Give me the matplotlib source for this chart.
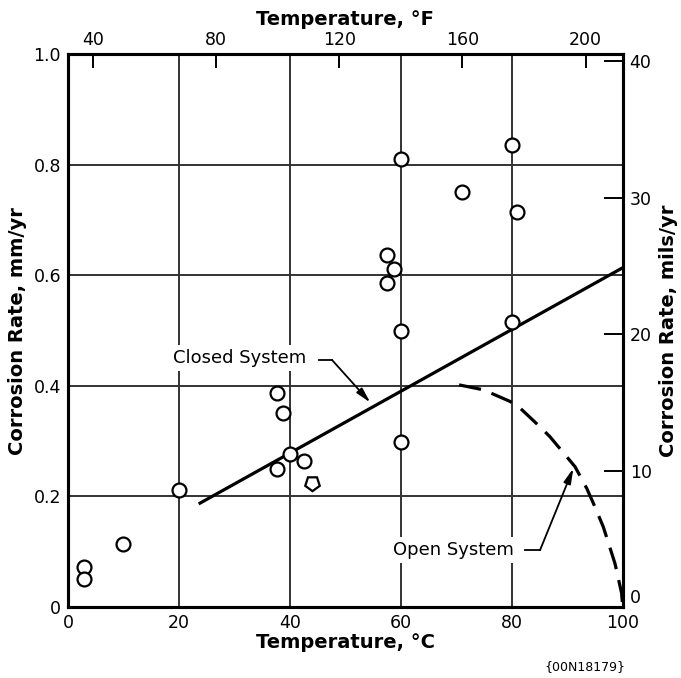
import numpy as np
import matplotlib
matplotlib.use("Agg")
import matplotlib.pyplot as plt

# measured points, temperature (C) vs corrosion rate (mm/yr)
temp_c = [2.8, 2.8, 10, 20, 37.6, 38.8, 37.6, 40.0, 42.6,
          60, 60, 57.5, 58.8, 57.5, 60, 71.1, 80, 81.0, 80]
rate = [0.072, 0.051, 0.114, 0.212, 0.388, 0.351, 0.249, 0.277, 0.265,
        0.299, 0.50, 0.587, 0.612, 0.637, 0.810, 0.751, 0.836, 0.715, 0.516]
# one odd point drawn as a pentagon
odd_temp = [44.0]
odd_rate = [0.225]

# closed system trend line
closed_t = [23.8, 100]
closed_r = [0.188, 0.614]

# open system curve
open_t = [70.5, 74.9, 79.7, 81.5, 85.1, 86.9, 89.9, 91.4, 93.5, 94.7, 96.5, 98.6, 99.8, 100]
open_r = [0.402, 0.393, 0.372, 0.360, 0.326, 0.308, 0.272, 0.254, 0.215, 0.188, 0.145, 0.079, 0.025, 0.0]

x_ticks = [0, 20, 40, 60, 80, 100]
y_ticks = [0, 0.2, 0.4, 0.6, 0.8, 1.0]
f_ticks = [40, 80, 120, 160, 200]
mils_ticks = [0, 10, 20, 30, 40]

plt.rcParams['font.family'] = 'DejaVu Sans'

fig = plt.figure(figsize=(6.81, 6.78), dpi=100)
ax = fig.add_axes([0.0999, 0.1047, 0.8145, 0.815])

GRID = '#333333'
LBL = 14  # bold axis titles
ax.set_xlim(0, 100)
ax.set_ylim(0, 1.0)
ax.set_xticks(x_ticks)
ax.set_yticks(y_ticks)
ax.set_xticklabels([str(t) for t in x_ticks])
ax.set_yticklabels(['0', '0.2', '0.4', '0.6', '0.8', '1.0'])
ax.tick_params(axis='both', length=0, labelsize=12.5, pad=5)
ax.grid(True, color=GRID, linewidth=1.4)
ax.set_axisbelow(True)
for s in ax.spines.values():
    s.set_linewidth(2.2)

ax.set_xlabel('Temperature, \u00b0C', fontsize=LBL, fontweight='bold', labelpad=1)
ax.set_ylabel('Corrosion Rate, mm/yr', fontsize=LBL, fontweight='bold', labelpad=5)

# data
ax.plot(temp_c, rate, 'o', ms=10, mfc='white', mec='black', mew=1.6, zorder=5)
ax.plot(odd_temp, odd_rate, marker=(5, 0, 180), ls='none', ms=11, mfc='white',
        mec='black', mew=1.6, zorder=5)
ax.plot(closed_t, closed_r, color='black', lw=2.3, zorder=4)
ax.plot(open_t, open_r, color='black', lw=2.3, dashes=(7, 3.5), zorder=4)

# labels with arrows
ax.text(31.0, 0.451, 'Closed System', fontsize=13, ha='center', va='center', zorder=6,
        bbox=dict(facecolor='white', edgecolor='none', pad=3))
ax.plot([45.2, 47.6], [0.447, 0.447], color='black', lw=1.3, zorder=6)
ax.annotate('', xy=(54.5, 0.370), xytext=(47.6, 0.447), zorder=6,
            arrowprops=dict(arrowstyle='-|>,head_length=0.9,head_width=0.22',
                            color='black', lw=1.3, shrinkA=0, shrinkB=0))

ax.text(69.5, 0.103, 'Open System', fontsize=13, ha='center', va='center', zorder=6,
        bbox=dict(facecolor='white', edgecolor='none', pad=3))
ax.plot([82.4, 85.1], [0.103, 0.103], color='black', lw=1.3, zorder=6)
ax.annotate('', xy=(91.1, 0.251), xytext=(85.1, 0.103), zorder=6,
            arrowprops=dict(arrowstyle='-|>,head_length=0.9,head_width=0.22',
                            color='black', lw=1.3, shrinkA=0, shrinkB=0))

# top axis in Fahrenheit
top = ax.secondary_xaxis('top', functions=(lambda c: c * 9 / 5 + 32,
                                           lambda f: (f - 32) * 5 / 9))
top.set_xticks(f_ticks)
top.tick_params(direction='in', length=10, width=1.4, labelsize=12.5, pad=4)
top.set_xlabel('Temperature, \u00b0F', fontsize=LBL, fontweight='bold', labelpad=4)

# right axis in mils/yr
ax2 = ax.twinx()
ax2.set_ylim(0, 40.5)
ax2.set_yticks(mils_ticks)
ax2.tick_params(axis='y', direction='in', length=14, width=1.4, labelsize=12.5, pad=5)
ax2.get_yticklabels()[0].set_verticalalignment('bottom')
ax2.set_ylabel('Corrosion Rate, mils/yr', fontsize=LBL, fontweight='bold',
               rotation=90, labelpad=5)
for s in ax2.spines.values():
    s.set_linewidth(2.2)

fig.text(0.918, 0.008, '{00N18179}', fontsize=9, ha='right', va='bottom')

fig.savefig('out.png', dpi=100)
